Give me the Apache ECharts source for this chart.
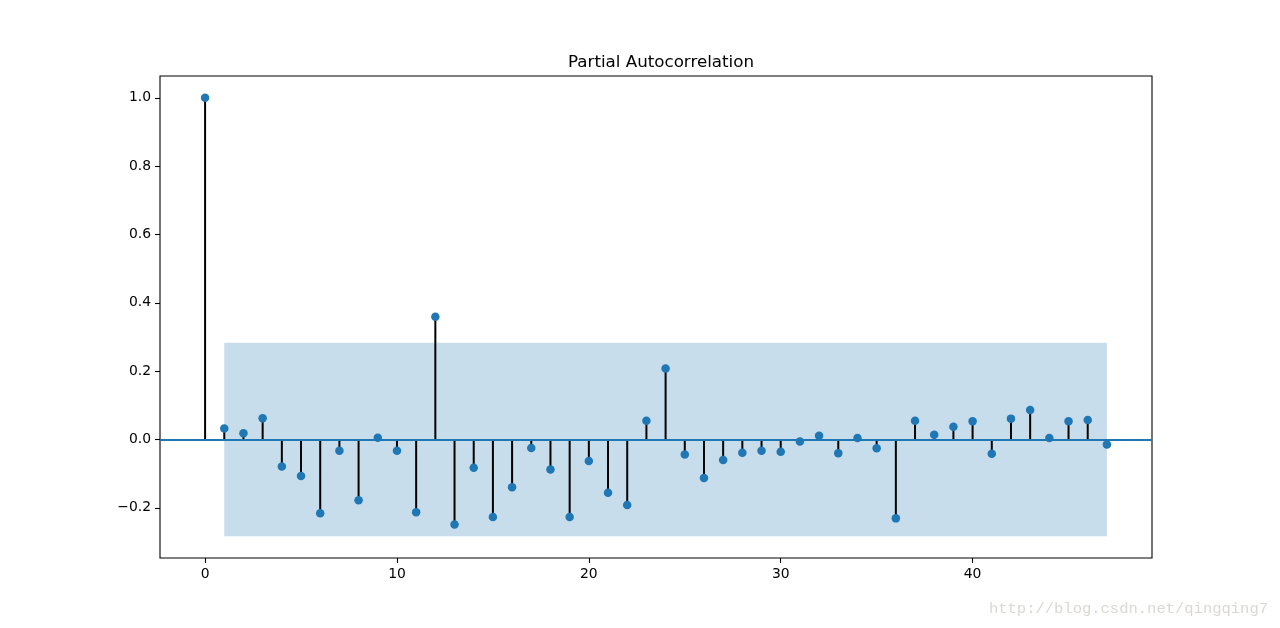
<!DOCTYPE html>
<html>
<head>
<meta charset="utf-8">
<script src="https://cdn.jsdelivr.net/npm/echarts@6/dist/echarts.min.js"></script>
<style>html,body{margin:0;padding:0;background:#fff;}#c{width:1280px;height:628px;}</style>
</head>
<body>
<div id="c"></div>
<script>
const lags = [0,1,2,3,4,5,6,7,8,9,10,11,12,13,14,15,16,17,18,19,20,21,22,23,24,25,26,27,28,29,30,31,32,33,34,35,36,37,38,39,40,41,42,43,44,45,46,47];
const pacfValues = [1.0,0.032,0.018,0.062,-0.079,-0.107,-0.216,-0.033,-0.178,0.005,-0.033,-0.213,0.359,-0.249,-0.083,
  -0.227,-0.140,-0.025,-0.088,-0.227,-0.063,-0.156,-0.192,0.055,0.208,-0.044,-0.113,-0.060,-0.039,-0.033,-0.036,
  -0.006,0.011,-0.040,0.004,-0.026,-0.231,0.055,0.014,0.037,0.053,-0.042,0.061,0.086,0.004,0.053,0.057,-0.015];
const bandLags = [1, 47];
const bandHalfWidth = 0.283;
const xTicks = [0,10,20,30,40];
const yTicks = [-0.2,0.0,0.2,0.4,0.6,0.8,1.0];
const titleText = 'Partial Autocorrelation';
const watermark = 'http://blog.csdn.net/qingqing7';

const pts = lags.map((l,i)=>[l,pacfValues[i]]);
const chart = echarts.init(document.getElementById('c'));
const font = 'DejaVu Sans';
chart.setOption({
  animation:false,
  title:{text:titleText,left:656,textAlign:'center',top:49,textStyle:{fontFamily:font,fontSize:16.7,fontWeight:'normal',color:'#000'}},
  grid:{left:160,right:128,top:76,bottom:70,show:true,borderColor:'#000',borderWidth:1.1,backgroundColor:'transparent'},
  xAxis:{type:'value',min:-2.35,max:49.35,position:'bottom',
    axisLine:{show:false,onZero:false},splitLine:{show:false},
    axisTick:{show:true,inside:false,customValues:xTicks,length:5,lineStyle:{color:'#000',width:1.1}},
    axisLabel:{customValues:xTicks,margin:9,fontFamily:font,fontSize:13.9,color:'#000',showMinLabel:true,showMaxLabel:true}},
  yAxis:{type:'value',min:-0.347,max:1.064,position:'left',
    axisLine:{show:false,onZero:false},splitLine:{show:false},
    axisTick:{show:true,inside:false,customValues:yTicks,length:5,lineStyle:{color:'#000',width:1.1}},
    axisLabel:{customValues:yTicks,margin:9,fontFamily:font,fontSize:13.9,color:'#000',
      formatter:v=>(v<-1e-9?'\u2212':'')+Math.abs(v).toFixed(1)}},
  series:[
    {type:'custom',z:2,silent:true,data:pts,
      renderItem:(params,api)=>{
        const x=api.value(0),v=api.value(1);
        const p0=api.coord([x,0]),p1=api.coord([x,v]);
        return {type:'line',shape:{x1:p0[0],y1:p0[1],x2:p1[0],y2:p1[1]},style:{stroke:'#000',lineWidth:2}};
      }},
    {type:'scatter',z:4,silent:true,data:pts,symbol:'circle',symbolSize:8.5,itemStyle:{color:'#1f77b4',opacity:1},
      markLine:{silent:true,symbol:'none',z:3,label:{show:false},lineStyle:{color:'#1f77b4',width:2,type:'solid'},data:[{yAxis:0}]}},
    {type:'line',z:5,silent:true,data:[],
      markArea:{silent:true,itemStyle:{color:'rgba(31,119,180,0.25)'},
        data:[[{xAxis:bandLags[0],yAxis:-bandHalfWidth},{xAxis:bandLags[1],yAxis:bandHalfWidth}]]}}
  ],
  graphic:[{type:'text',right:12,bottom:11,style:{text:watermark,font:'15.5px "Liberation Mono"',fill:'#dad8d3'}}]
});
</script>
</body>
</html>
